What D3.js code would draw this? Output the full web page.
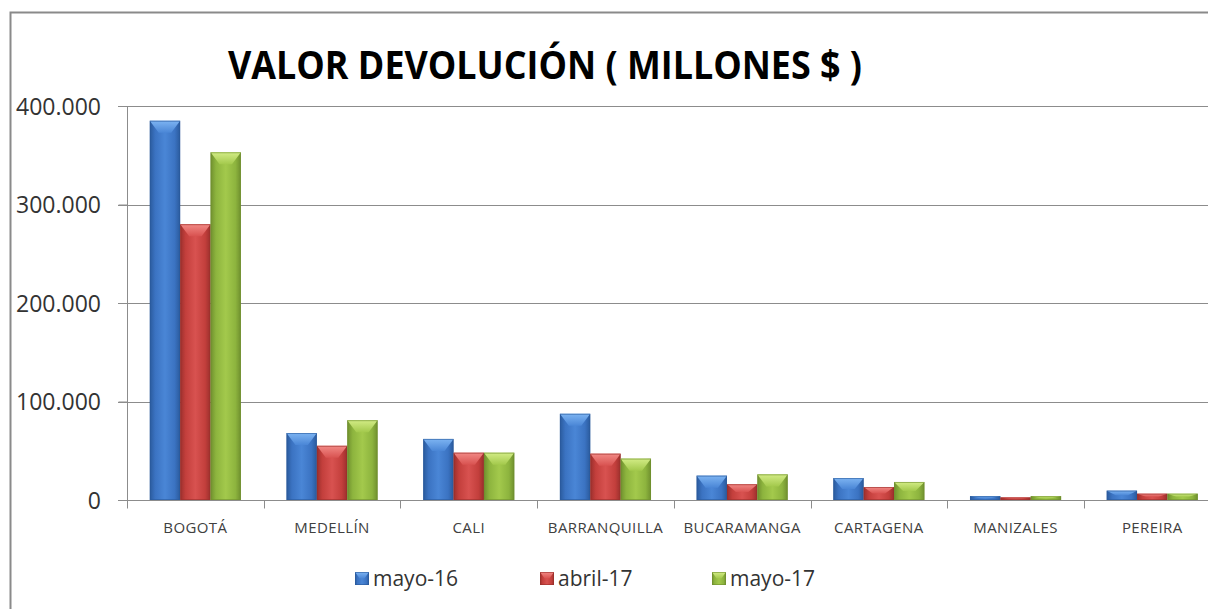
<!DOCTYPE html>
<html>
<head>
<meta charset="utf-8">
<script src="https://cdnjs.cloudflare.com/ajax/libs/d3/7.8.5/d3.min.js"></script>
<style>
  html, body { margin: 0; background: #fff; overflow: hidden; }
  svg { display: block; font-family: "Open Sans", sans-serif; }
</style>
</head>
<body>
<div class="chart"></div>
<script>
// chart data
var cities = ["BOGOTÁ", "MEDELLÍN", "CALI", "BARRANQUILLA", "BUCARAMANGA", "CARTAGENA", "MANIZALES", "PEREIRA"];
var series = ["mayo-16", "abril-17", "mayo-17"];
var mayo16 = [385000, 68000, 62000, 87500, 24700, 22300, 4000, 9500];
var abril17 = [280000, 55000, 48000, 47000, 16000, 13200, 2700, 6400];
var mayo17 = [353000, 81000, 48000, 42000, 26000, 18300, 4000, 6400];
var yTicks = [0, 100000, 200000, 300000, 400000];
var title = "VALOR DEVOLUCIÓN ( MILLONES $ )";

var values = [mayo16, abril17, mayo17];

var width = 1208,
    height = 609;

// colours for each series: dark edge, base, light centre, bevel
var hues = [
  {dark: "#2a5a9c", base: "#3b73c2", light: "#4a86d6", top: "#7db4f2"},
  {dark: "#9a2f2c", base: "#c33f3c", light: "#d85250", top: "#f28a86"},
  {dark: "#6f8f2e", base: "#8db43e", light: "#a3c94c", top: "#d3ec86"}
];

var loc = d3.formatLocale({decimal: ",", thousands: ".", grouping: [3], currency: ["$", ""]});
var fmt = loc.format(",");

var svg = d3.select(".chart").append("svg")
    .attr("width", width)
    .attr("height", height);

svg.append("rect")
    .attr("width", width).attr("height", height)
    .attr("fill", "#fff");

// outer frame (runs off the right and bottom edges)
svg.append("rect")
    .attr("x", 10.5).attr("y", 12.5)
    .attr("width", 1300).attr("height", 700)
    .attr("fill", "none")
    .attr("stroke", "#8a8a8a")
    .attr("stroke-width", 2);

var defs = svg.append("defs");
hues.forEach(function(h, i) {
  var g = defs.append("linearGradient").attr("id", "body" + i)
      .attr("x1", "0%").attr("x2", "100%").attr("y1", "0%").attr("y2", "0%");
  g.append("stop").attr("offset", "0%").attr("stop-color", h.dark);
  g.append("stop").attr("offset", "18%").attr("stop-color", h.base);
  g.append("stop").attr("offset", "50%").attr("stop-color", h.light);
  g.append("stop").attr("offset", "82%").attr("stop-color", h.base);
  g.append("stop").attr("offset", "100%").attr("stop-color", h.dark);
  var t = defs.append("linearGradient").attr("id", "top" + i)
      .attr("x1", "0%").attr("x2", "0%").attr("y1", "0%").attr("y2", "100%");
  t.append("stop").attr("offset", "0%").attr("stop-color", h.top);
  t.append("stop").attr("offset", "100%").attr("stop-color", h.light);
});

var y = d3.scaleLinear()
    .domain([0, 400000])
    .range([500, 106]);

var x = d3.scaleBand()
    .domain(cities)
    .range([127, 127 + 136.7 * cities.length])
    .paddingInner(0).paddingOuter(0);

var xs = d3.scaleBand()
    .domain(series)
    .range([0, x.bandwidth()])
    .paddingInner(0).paddingOuter(0.75);

// gridlines
svg.append("g").selectAll("line")
    .data(yTicks.slice(1)).enter()
    .append("line")
    .attr("x1", 118).attr("x2", width)
    .attr("y1", function(d) { return Math.round(y(d)) + 0.5; })
    .attr("y2", function(d) { return Math.round(y(d)) + 0.5; })
    .attr("stroke", "#8c8c8c");

// y axis
var yAxis = svg.append("g")
    .attr("transform", "translate(127.5,0)")
    .call(d3.axisLeft(y).tickValues(yTicks).tickSize(9).tickFormat(fmt));
yAxis.select(".domain").attr("stroke", "#8c8c8c").attr("d", "M0," + y(400000) + "V" + y(0));
yAxis.selectAll(".tick line").attr("stroke", "#8c8c8c");
yAxis.selectAll(".tick text")
    .attr("x", -26.5)
    .attr("dy", "0.36em")
    .attr("fill", "#333")
    .style("font-size", "23px")
    .style("font-family", "'Open Sans', sans-serif");

// x axis
var xAxis = svg.append("g")
    .attr("transform", "translate(0," + (Math.round(y(0)) + 0.5) + ")");
xAxis.append("line")
    .attr("x1", 118).attr("x2", width)
    .attr("stroke", "#8c8c8c");
xAxis.selectAll(".sep")
    .data(cities).enter()
    .append("line")
    .attr("class", "sep")
    .attr("x1", function(d) { return Math.round(x(d)) + 0.5; })
    .attr("x2", function(d) { return Math.round(x(d)) + 0.5; })
    .attr("y1", 0).attr("y2", 8)
    .attr("stroke", "#8c8c8c");
xAxis.selectAll(".lab")
    .data(cities).enter()
    .append("text")
    .attr("class", "lab")
    .attr("x", function(d) { return x(d) + x.bandwidth() / 2; })
    .attr("y", 32)
    .attr("text-anchor", "middle")
    .attr("fill", "#404040")
    .style("font-size", "15px")
    .style("letter-spacing", "0.4px")
    .text(function(d) { return d; });

// bars
function drawBar(sel, i, bx, by, bw, bh) {
  sel.append("rect")
    .attr("x", bx).attr("y", by)
    .attr("width", bw).attr("height", bh)
    .attr("fill", "url(#body" + i + ")");
  var b = Math.min(12, bh / 2),
      inset = Math.min(9, bw / 3);
  sel.append("path")
    .attr("d", "M" + bx + "," + by + "H" + (bx + bw) + "L" + (bx + bw - inset) + "," + (by + b) +
               "H" + (bx + inset) + "Z")
    .attr("fill", "url(#top" + i + ")");
  sel.append("rect")
    .attr("x", bx + 0.5).attr("y", by + 0.5)
    .attr("width", Math.max(bw - 1, 0)).attr("height", Math.max(bh - 1, 0))
    .attr("fill", "none")
    .attr("stroke", hues[i].dark)
    .attr("stroke-opacity", 0.6);
}

var groups = svg.append("g").selectAll("g")
    .data(cities).enter()
    .append("g")
    .attr("transform", function(d) { return "translate(" + x(d) + ",0)"; });

groups.each(function(city, ci) {
  var g = d3.select(this);
  series.forEach(function(s, si) {
    var v = values[si][ci];
    drawBar(g.append("g"), si, xs(s), y(v), xs.bandwidth(), y(0) - y(v));
  });
});

// title
svg.append("text")
    .attr("x", 228).attr("y", 79)
    .attr("textLength", 634)
    .attr("lengthAdjust", "spacingAndGlyphs")
    .attr("fill", "#000")
    .style("font-size", "40px")
    .style("font-weight", "bold")
    .text(title);

// legend
var legX = d3.scaleOrdinal().domain(series).range([355, 540, 712]);
var legend = svg.selectAll(".legend")
    .data(series).enter()
    .append("g")
    .attr("class", "legend")
    .attr("transform", function(d) { return "translate(" + legX(d) + ",572)"; });
legend.each(function(d, i) {
  drawBar(d3.select(this), i, 0, 0, 14, 13);
});
legend.append("text")
    .attr("x", 18).attr("y", 14)
    .attr("fill", "#333")
    .style("font-size", "21px")
    .text(function(d) { return d; });
</script>
</body>
</html>
